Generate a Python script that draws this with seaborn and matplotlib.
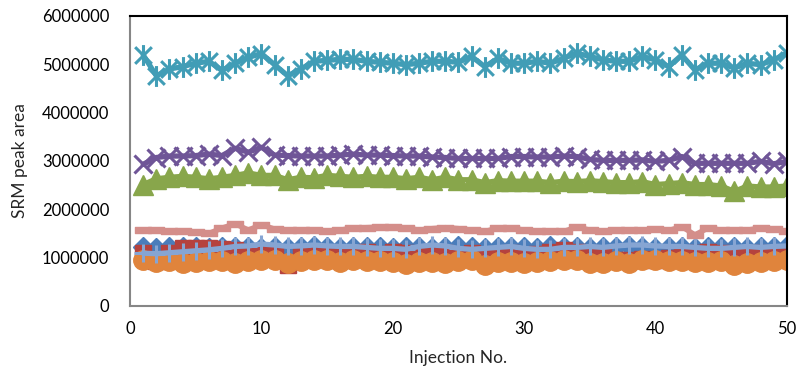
import numpy as np
import pandas as pd
import seaborn as sns
import matplotlib.pyplot as plt
from matplotlib.path import Path

# injection numbers 1..50
injection = list(range(1, 51))

# SRM peak areas (millions)
blue_diamond = [1.22, 1.20, 1.22, 1.21, 1.22, 1.20, 1.21, 1.22, 1.21, 1.20,
                1.22, 1.20, 1.21, 1.23, 1.21, 1.20, 1.21, 1.22, 1.21, 1.20,
                1.22, 1.21, 1.20, 1.22, 1.23, 1.21, 1.20, 1.22, 1.21, 1.22,
                1.20, 1.24, 1.21, 1.22, 1.20, 1.21, 1.22, 1.23, 1.21, 1.20,
                1.22, 1.21, 1.20, 1.22, 1.21, 1.22, 1.20, 1.21, 1.22, 1.23]
red_square = [1.10, 0.92, 1.10, 1.20, 1.20, 1.20, 1.18, 1.15, 1.12, 1.10,
              1.10, 0.85, 1.10, 1.12, 1.10, 1.10, 1.10, 1.12, 1.08, 1.12,
              1.10, 1.08, 1.12, 1.10, 1.05, 1.10, 1.05, 1.08, 1.10, 1.05,
              1.08, 1.12, 1.15, 1.12, 1.10, 1.05, 0.95, 0.95, 0.96, 0.95,
              1.00, 1.10, 1.10, 1.12, 1.10, 1.05, 1.08, 1.10, 1.05, 1.05]
green_triangle = [2.51, 2.63, 2.66, 2.68, 2.66, 2.63, 2.66, 2.70, 2.75, 2.70,
                  2.70, 2.61, 2.66, 2.65, 2.70, 2.68, 2.66, 2.68, 2.66, 2.66,
                  2.63, 2.66, 2.61, 2.66, 2.61, 2.61, 2.55, 2.59, 2.58, 2.58,
                  2.58, 2.55, 2.58, 2.57, 2.59, 2.57, 2.55, 2.55, 2.57, 2.51,
                  2.53, 2.55, 2.51, 2.51, 2.48, 2.37, 2.48, 2.46, 2.46, 2.48]
purple_x = [2.93, 3.07, 3.10, 3.10, 3.11, 3.14, 3.11, 3.26, 3.18, 3.28,
            3.12, 3.11, 3.10, 3.10, 3.10, 3.12, 3.14, 3.12, 3.12, 3.11,
            3.10, 3.10, 3.08, 3.07, 3.05, 3.05, 3.05, 3.05, 3.09, 3.09,
            3.08, 3.08, 3.10, 3.09, 3.03, 3.01, 3.01, 3.01, 3.02, 2.99,
            3.01, 3.09, 2.95, 2.95, 2.95, 2.95, 2.95, 2.99, 2.94, 2.99]
cyan_star = [5.19, 4.76, 4.90, 4.95, 5.02, 5.06, 4.87, 5.02, 5.14, 5.22,
             4.99, 4.76, 4.90, 5.06, 5.08, 5.10, 5.10, 5.06, 5.04, 5.02,
             4.99, 5.02, 5.06, 5.06, 5.04, 5.16, 4.95, 5.12, 5.02, 5.02,
             5.06, 5.02, 5.12, 5.23, 5.16, 5.09, 5.06, 5.06, 5.16, 5.09,
             4.95, 5.19, 4.88, 5.02, 5.02, 4.92, 5.02, 4.99, 5.09, 5.23]
orange_circle = [0.95, 0.90, 0.92, 0.88, 0.90, 0.92, 0.92, 0.88, 0.92, 0.94,
                 0.94, 0.88, 0.92, 0.94, 0.94, 0.90, 0.94, 0.92, 0.92, 0.90,
                 0.87, 0.90, 0.90, 0.88, 0.92, 0.94, 0.85, 0.90, 0.90, 0.88,
                 0.90, 0.92, 0.94, 0.94, 0.88, 0.88, 0.92, 0.88, 0.95, 0.94,
                 0.92, 0.92, 0.90, 0.90, 0.92, 0.85, 0.88, 0.90, 0.92, 0.94]
lightblue_plus = [1.09, 1.08, 1.10, 1.12, 1.14, 1.16, 1.19, 1.23, 1.24, 1.28,
                  1.26, 1.23, 1.24, 1.26, 1.24, 1.23, 1.23, 1.21, 1.19, 1.19,
                  1.17, 1.23, 1.26, 1.24, 1.19, 1.17, 1.19, 1.21, 1.23, 1.19,
                  1.17, 1.17, 1.21, 1.21, 1.23, 1.21, 1.24, 1.26, 1.26, 1.24,
                  1.23, 1.23, 1.21, 1.19, 1.19, 1.21, 1.23, 1.21, 1.23, 1.24]
pink_dash = [1.57, 1.56, 1.54, 1.54, 1.52, 1.50, 1.61, 1.70, 1.57, 1.68,
             1.59, 1.57, 1.57, 1.56, 1.55, 1.57, 1.61, 1.62, 1.63, 1.64,
             1.61, 1.57, 1.60, 1.62, 1.60, 1.57, 1.54, 1.61, 1.61, 1.57,
             1.54, 1.54, 1.54, 1.63, 1.57, 1.54, 1.56, 1.57, 1.57, 1.59,
             1.56, 1.64, 1.47, 1.61, 1.57, 1.57, 1.57, 1.61, 1.59, 1.54]

y_ticks = [0, 1000000, 2000000, 3000000, 4000000, 5000000, 6000000]
x_ticks = [0, 10, 20, 30, 40, 50]

# excel-like markers
star = Path([(-1, -1), (1, 1), (-1, 1), (1, -1), (0, -1.25), (0, 1.25)],
            [Path.MOVETO, Path.LINETO, Path.MOVETO, Path.LINETO, Path.MOVETO, Path.LINETO])
dash = Path([(-1, -0.35), (1, -0.35), (1, 0.35), (-1, 0.35), (-1, -0.35)],
            [Path.MOVETO, Path.LINETO, Path.LINETO, Path.LINETO, Path.CLOSEPOLY])

series = [
    (blue_diamond, '#4a7dbb', 'D', 10, 1),
    (red_square, '#b5423e', 's', 12, 1),
    (green_triangle, '#88a64b', '^', 14, 1),
    (purple_x, '#6f5597', 'x', 13, 2.2),
    (cyan_star, '#419db6', star, 15, 2.2),
    (orange_circle, '#e0843c', 'o', 14, 1),
    (lightblue_plus, '#86a5d3', '+', 13, 2.2),
    (pink_dash, '#d48e8a', dash, 11, 1),
]

sns.set_style('white')
plt.rcParams['font.family'] = ['Lato', 'DejaVu Sans']

fig = plt.figure(figsize=(7.98, 3.69), dpi=100)
ax = fig.add_axes([0.163, 0.171, 0.823, 0.786])

for vals, col, mk, ms, mew in series:
    sns.lineplot(x=injection, y=np.array(vals) * 1e6, ax=ax, color=col, linewidth=3.8,
                 marker=mk, markersize=ms, markeredgecolor=col, markerfacecolor=col,
                 markeredgewidth=mew)

ax.set_xlim(0, 50)
ax.set_ylim(0, 6000000)
ax.set_xticks(x_ticks)
ax.set_yticks(y_ticks)
ax.set_yticklabels([str(v) for v in y_ticks])

for s in ['left', 'bottom']:
    ax.spines[s].set_color('#868686')
    ax.spines[s].set_linewidth(1.5)
for s in ['top', 'right']:
    ax.spines[s].set_color('black')
    ax.spines[s].set_linewidth(1.5)

ax.tick_params(axis='both', direction='out', length=4, width=1.2, color='#868686',
               labelsize=12, labelcolor='black')
ax.tick_params(axis='y', pad=11)
ax.tick_params(axis='x', pad=7)

ax.set_xlabel('Injection No.', fontsize=12.5, labelpad=9)
ax.set_ylabel('SRM peak area', fontsize=12.5, labelpad=10)

fig.savefig('out.png', dpi=100)
